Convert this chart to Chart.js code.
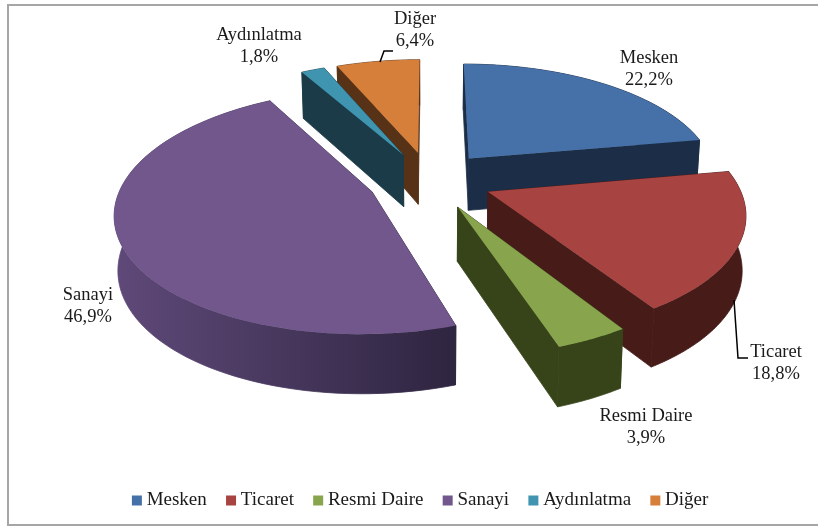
<!DOCTYPE html>
<html lang="tr">
<head>
<meta charset="utf-8">
<style>html,body{margin:0;padding:0;background:#fff}canvas{display:block}</style>
<script src="https://cdn.jsdelivr.net/npm/chart.js@4/dist/chart.umd.js"></script>
</head>
<body>
<canvas id="c" width="818" height="531"></canvas>
<script>
const categories = ['Mesken', 'Ticaret', 'Resmi Daire', 'Sanayi', 'Aydınlatma', 'Diğer'];
const shares = [22.2, 18.8, 3.9, 46.9, 1.8, 6.4];
const explodePercent = [25, 25, 25, 25, 25, 25];
const topColors = ['#4571a8', '#a74340', '#88a44c', '#71578c', '#3f95b0', '#d67f3a'];
const wallLeft = ['#1b2d47', '#461b18', '#374319', '#5f4979', '#1a3b47', '#583216'];
const wallRight = ['#1b2d47', '#461b18', '#374319', '#2e2540', '#1a3b47', '#583216'];
const labelCenters = [[649, 58], [776, 352], [646, 416], [88, 295], [259, 35], [415, 19]];
const leaders = [[[734, 300], [738, 358], [748, 358]], [[380, 62], [384, 51], [393, 51]]];
const camera = {cx: 430, cy: 180, sx: 249, sy: 115.6, persp: 0.158, depth: 53, depthSlope: 6, converge: 0.012};

function project(X, Y, z) {
  const w = 1 - camera.persp * Y;
  let x = camera.cx + camera.sx * X / w;
  const y = camera.cy + camera.sy * Y / w + z * (camera.depth + camera.depthSlope * Y);
  x -= (x - camera.cx) * camera.converge * z;
  return [x, y];
}

function fillPoly(ctx, pts, seal) {
  ctx.beginPath();
  pts.forEach((v, j) => j ? ctx.lineTo(v[0], v[1]) : ctx.moveTo(v[0], v[1]));
  ctx.closePath();
  ctx.fill();
  if (seal) {
    ctx.strokeStyle = ctx.fillStyle;
    ctx.lineWidth = 0.8;
    ctx.stroke();
  }
}

const pie3d = {
  id: 'pie3d',
  beforeDraw(chart) {
    const ctx = chart.ctx;
    ctx.save();
    ctx.fillStyle = '#fff';
    ctx.fillRect(0, 0, chart.width, chart.height);
    ctx.strokeStyle = '#a6a6a6';
    ctx.lineWidth = 2;
    ctx.strokeRect(8, 5, chart.width + 20, 520);
    ctx.restore();
  },
  beforeDatasetsDraw(chart) {
    const ctx = chart.ctx;
    const arcs = chart.getDatasetMeta(0).data;
    const slices = arcs.map((arc, i) => {
      const p = arc.getProps(['startAngle', 'endAngle', 'outerRadius'], true);
      const mid = (p.startAngle + p.endAngle) / 2;
      const off = arc.options.offset / p.outerRadius;
      return {i, a0: p.startAngle, a1: p.endAngle, ox: off * Math.cos(mid), oy: off * Math.sin(mid)};
    }).sort((s, t) => s.oy - t.oy);
    ctx.save();
    for (const s of slices) {
      const rim = [];
      const n = 80;
      for (let k = 0; k <= n; k++) {
        const a = s.a0 + (s.a1 - s.a0) * k / n;
        rim.push([s.ox + Math.cos(a), s.oy + Math.sin(a)]);
      }
      const apex = [s.ox, s.oy];
      const at = z => p => project(p[0], p[1], z);
      const topRim = rim.map(at(0));
      const lowRim = rim.map(at(1));
      const xs = topRim.map(p => p[0]);
      const grad = ctx.createLinearGradient(Math.min(...xs), 0, Math.max(...xs), 0);
      grad.addColorStop(0, wallLeft[s.i]);
      grad.addColorStop(1, wallRight[s.i]);
      ctx.fillStyle = grad;
      const a0 = at(0)(apex), a1 = at(1)(apex);
      fillPoly(ctx, [a0, topRim[0], lowRim[0], a1], true);
      fillPoly(ctx, [a0, topRim[n], lowRim[n], a1], true);
      fillPoly(ctx, [...topRim, ...lowRim.slice().reverse()], true);
      ctx.fillStyle = topColors[s.i];
      fillPoly(ctx, [a0, ...topRim], false);
    }
    ctx.strokeStyle = '#000';
    ctx.lineWidth = 1.5;
    for (const l of leaders) {
      ctx.beginPath();
      l.forEach((v, j) => j ? ctx.lineTo(v[0], v[1]) : ctx.moveTo(v[0], v[1]));
      ctx.stroke();
    }
    ctx.fillStyle = '#1a1a1a';
    ctx.font = '18.5px "Liberation Serif"';
    ctx.textAlign = 'center';
    ctx.textBaseline = 'middle';
    categories.forEach((name, i) => {
      const [x, y] = labelCenters[i];
      ctx.fillText(name, x, y);
      ctx.fillText(shares[i].toFixed(1).replace('.', ',') + '%', x, y + 22);
    });
    ctx.restore();
    return false;
  }
};

new Chart(document.getElementById('c'), {
  type: 'pie',
  data: {
    labels: categories,
    datasets: [{data: shares, backgroundColor: topColors, borderWidth: 0, offset: explodePercent, radius: 100}]
  },
  options: {
    responsive: false,
    animation: false,
    rotation: 0,
    layout: {padding: {left: 27, bottom: 11}},
    plugins: {
      tooltip: {enabled: false},
      legend: {
        position: 'bottom',
        labels: {
          usePointStyle: true,
          pointStyle: 'rect',
          boxWidth: 0.5,
          boxHeight: 10,
          padding: 24,
          color: '#1a1a1a',
          font: {family: '"Liberation Serif"', size: 19}
        }
      }
    }
  },
  plugins: [pie3d]
});
</script>
</body>
</html>
